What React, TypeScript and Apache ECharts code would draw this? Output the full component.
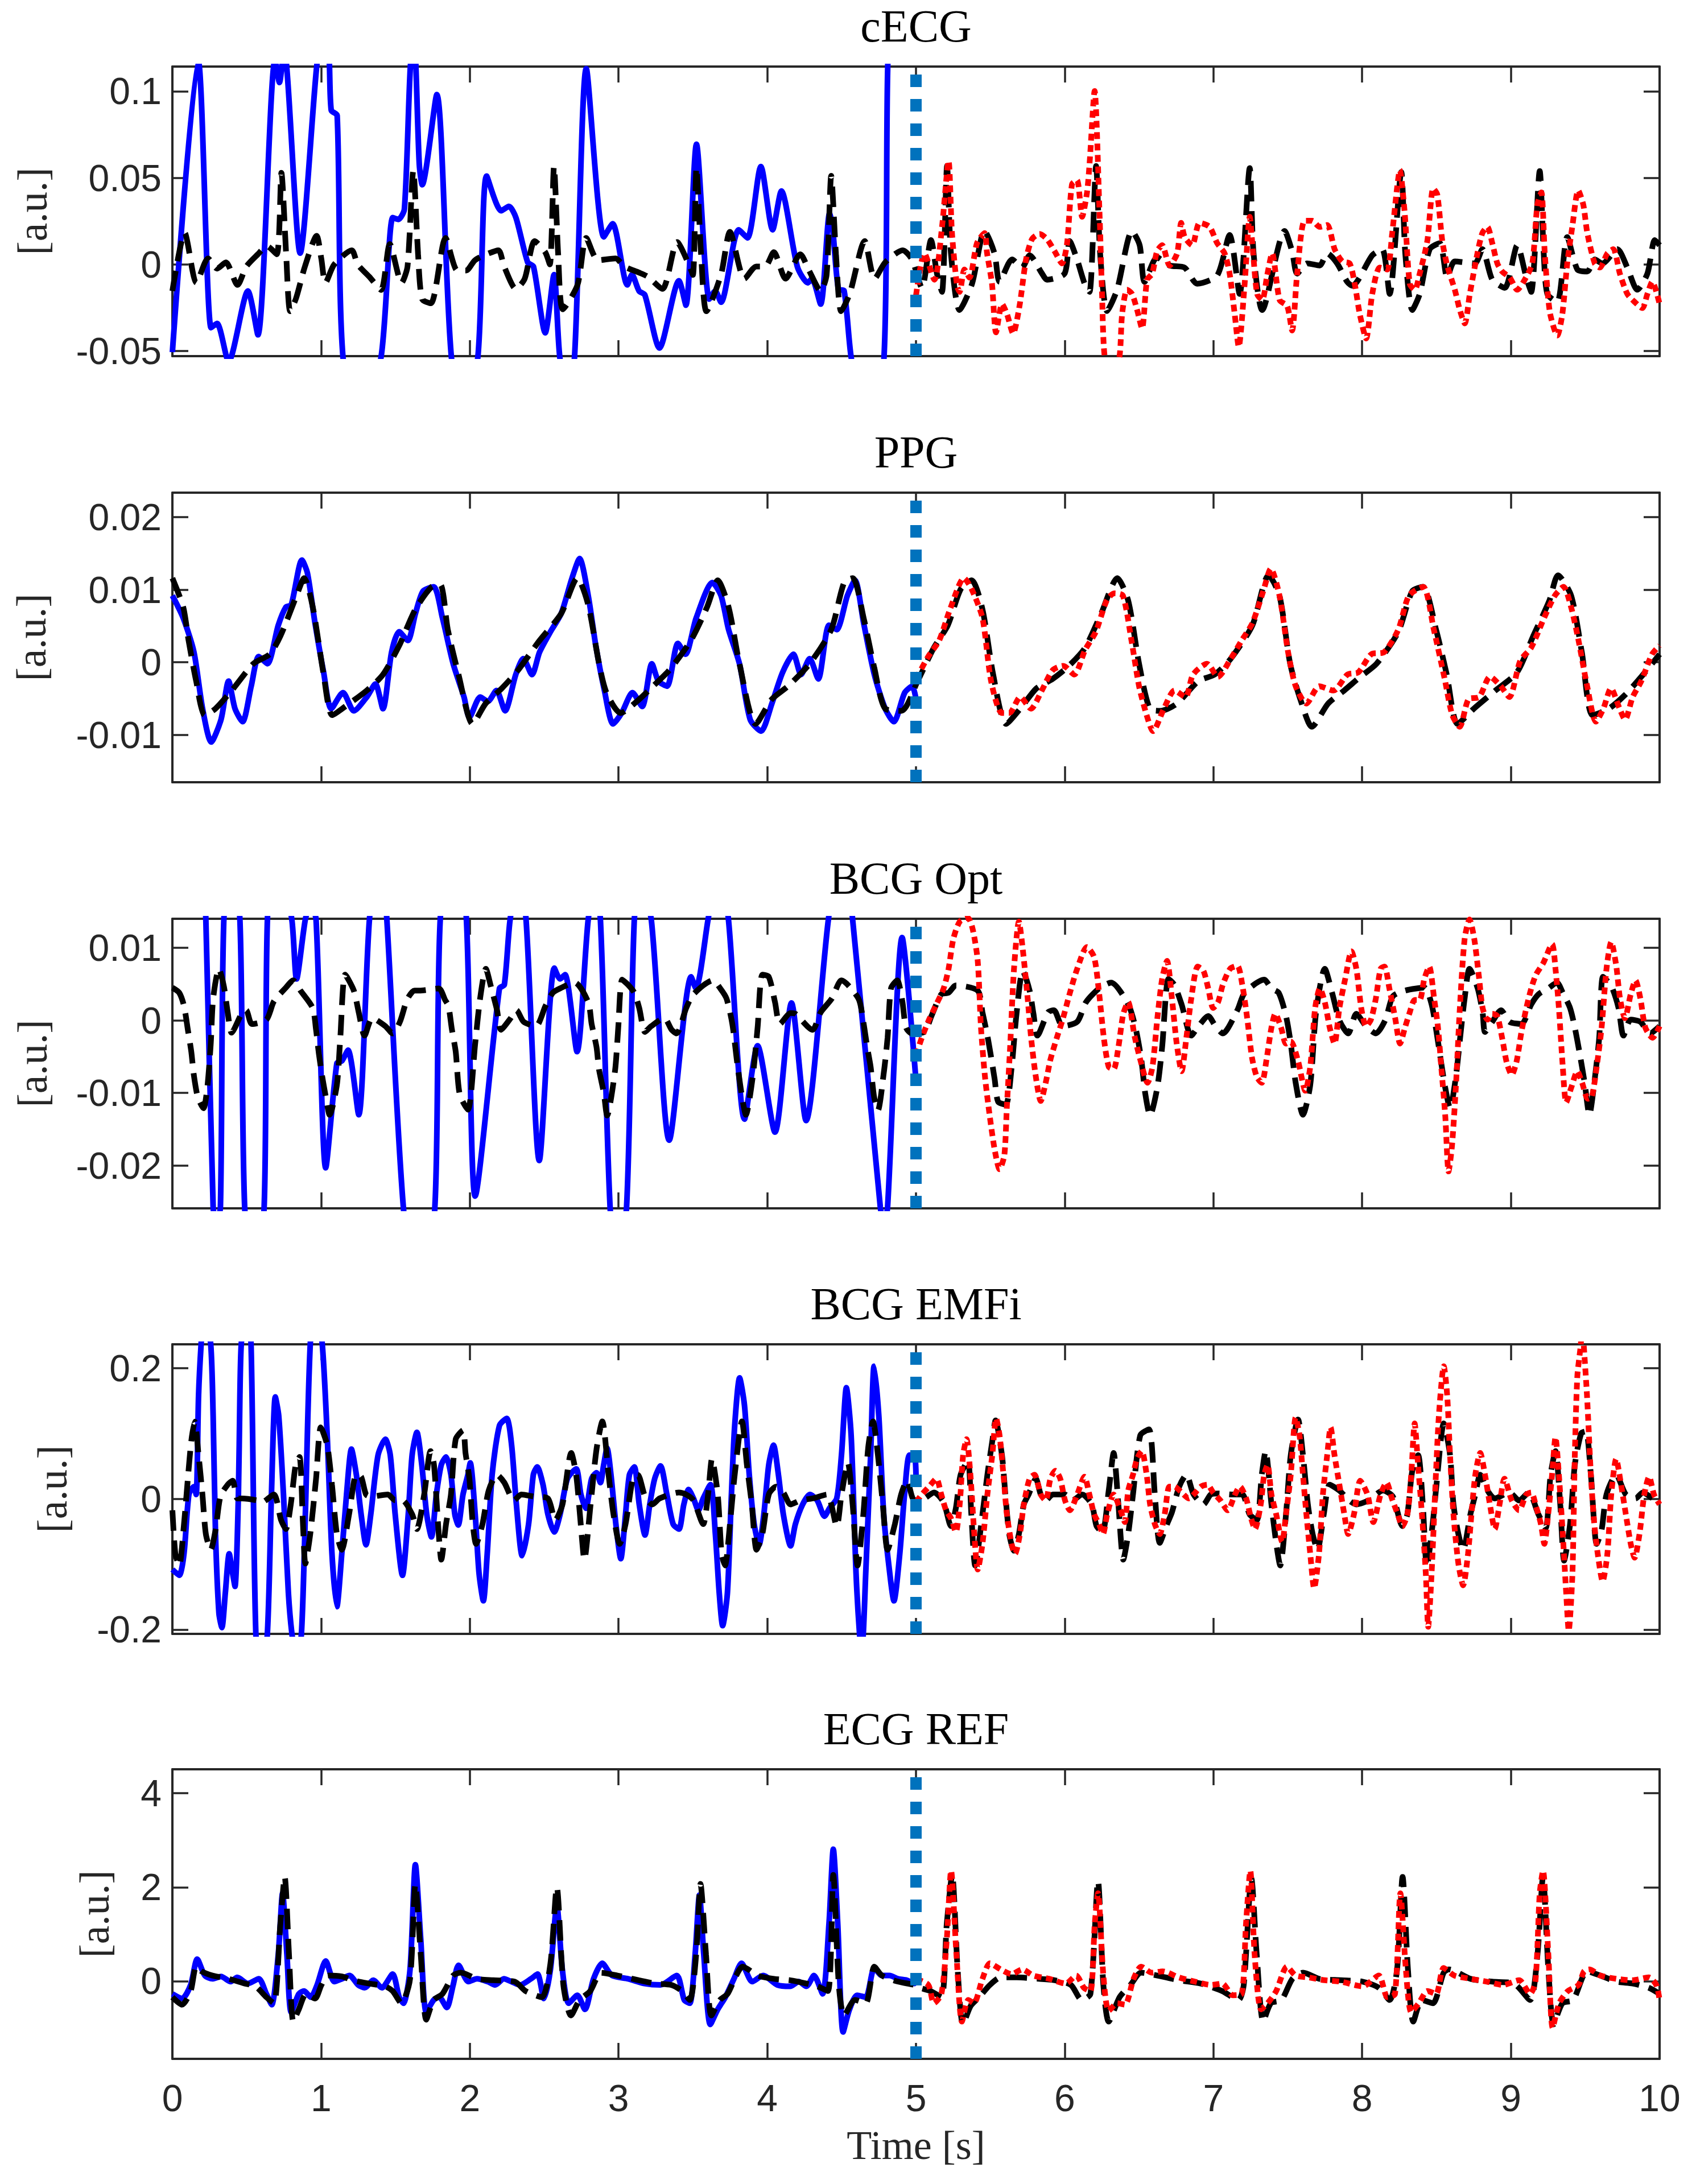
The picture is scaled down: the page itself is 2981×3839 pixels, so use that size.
import React, { useEffect, useRef } from "react";
import * as echarts from "echarts";

// ---------------- DATA (time [s], value [a.u.]) ----------------
const titles = ["cECG", "PPG", "BCG Opt", "BCG EMFi", "ECG REF"];
const splitTime = 5;
const timeMin = 0;
const timeMax = 10;

const cecgTicks = [-0.05, 0, 0.05, 0.1];
const ppgTicks = [-0.01, 0, 0.01, 0.02];
const bcgOptTicks = [-0.02, -0.01, 0, 0.01];
const emfiTicks = [-0.2, 0, 0.2];
const ecgTicks = [0, 2, 4];

const yMins = [-0.0529, -0.01655, -0.02589, -0.2066, -1.653];
const yMaxs = [0.1142, 0.02339, 0.01399, 0.2364, 4.51];

// cECG
const cecgPred = [[0,-0.0506],[0.173,0.118],[0.26,-0.0365],[0.3,-0.034],[0.378,-0.056],[0.508,-0.0153],[0.575,-0.0406],[0.69,0.118],[0.72,0.105],[0.75,0.125],[0.859,0.0065],[0.97,0.114],[1.01,0.135],[1.05,0.125],[1.068,0.089],[1.108,0.086],[1.147,-0.0535],[1.27,-0.085],[1.403,-0.0535],[1.482,0.027],[1.52,0.026],[1.56,0.032],[1.6,0.114],[1.625,0.13],[1.66,0.058],[1.68,0.046],[1.778,0.098],[1.876,-0.0535],[1.965,-0.075],[2.054,-0.0535],[2.113,0.051],[2.211,0.031],[2.263,0.0335],[2.31,0.027],[2.389,0.0012],[2.428,-0.0012],[2.507,-0.0394],[2.566,-0.0059],[2.605,-0.0535],[2.655,-0.07],[2.704,-0.0535],[2.783,0.113],[2.901,0.0159],[2.96,0.0235],[3.059,-0.0118],[3.09,-0.0059],[3.138,-0.0153],[3.177,-0.0176],[3.275,-0.0482],[3.406,-0.0094],[3.453,-0.0235],[3.524,0.0694],[3.61,-0.02],[3.65,-0.0153],[3.689,-0.0218],[3.808,0.02],[3.867,0.0153],[3.957,0.0565],[4.036,0.02],[4.095,0.0424],[4.202,-0.0012],[4.273,-0.0106],[4.3,-0.0082],[4.359,-0.0229],[4.419,0.0294],[4.438,0.0224],[4.478,-0.0141],[4.517,-0.0153],[4.564,-0.0535],[4.67,-0.1],[4.785,-0.0535],[4.81,0.114],[4.86,0.2],[4.95,0.25],[5.0,0.24]];
const cecgRef = [[0,-0.0153],[0.083,0.0182],[0.162,-0.0106],[0.24,0.0035],[0.3,-0.0024],[0.359,0.0012],[0.438,-0.0118],[0.497,-0.0012],[0.575,0.0059],[0.635,0.0106],[0.702,0.0059],[0.733,0.0529],[0.765,0.0059],[0.792,-0.027],[0.832,-0.0194],[0.891,-0.0012],[0.97,0.0165],[1.001,0.0035],[1.029,-0.0106],[1.088,0],[1.206,0.0082],[1.246,0],[1.324,-0.0071],[1.403,-0.0147],[1.462,0.0118],[1.541,-0.0106],[1.581,-0.0012],[1.62,0.0541],[1.652,0.0059],[1.679,-0.02],[1.738,-0.0224],[1.837,0.0153],[1.916,-0.0035],[1.975,-0.0035],[2.034,0.0024],[2.113,0.0059],[2.192,0.0082],[2.231,-0.0012],[2.31,-0.0141],[2.369,-0.0082],[2.436,0.0135],[2.507,0.0071],[2.538,0],[2.566,0.0565],[2.594,0.0059],[2.625,-0.0259],[2.724,-0.0118],[2.783,0.0153],[2.862,0.0024],[2.98,0.0035],[3.039,-0.0012],[3.138,-0.0047],[3.197,-0.0071],[3.295,-0.0141],[3.394,0.0129],[3.473,0],[3.5,-0.006],[3.524,0.0559],[3.555,0.0059],[3.591,-0.027],[3.689,-0.0059],[3.749,0.0188],[3.847,-0.0082],[3.926,-0.0012],[3.985,-0.0012],[4.044,0.0071],[4.123,-0.0082],[4.222,0.0059],[4.281,-0.0035],[4.359,-0.0153],[4.399,-0.006],[4.43,0.0512],[4.462,0.0059],[4.497,-0.027],[4.556,-0.0165],[4.655,0.0135],[4.722,-0.0082],[4.793,0.0012],[4.911,0.0082],[4.973,0.0029],[5.04,-0.0135],[5.101,0.0141],[5.141,-0.0053],[5.175,-0.0158],[5.209,0.0568],[5.235,0.0064],[5.293,-0.0263],[5.377,-0.0111],[5.461,0.0193],[5.528,0.0064],[5.562,-0.01],[5.646,0.0029],[5.713,-0.0018],[5.764,0.0053],[5.848,-0.0053],[5.881,-0.0088],[5.999,-0.0053],[6.033,0.0135],[6.083,0.0029],[6.134,-0.0111],[6.167,-0.0158],[6.211,0.0568],[6.238,0.0064],[6.285,-0.0269],[6.352,-0.0146],[6.453,0.0193],[6.504,0.0111],[6.537,-0.01],[6.621,0.0041],[6.705,-0.0006],[6.806,-0.0018],[6.89,-0.0111],[7.025,-0.0064],[7.109,0.017],[7.176,-0.017],[7.244,0.0556],[7.27,0.0064],[7.328,-0.0263],[7.479,0.0193],[7.529,0.0076],[7.563,-0.0053],[7.63,0.0006],[7.714,-0.0006],[7.765,0.0064],[7.832,0.0006],[7.899,-0.01],[7.933,-0.0123],[8.068,0.0053],[8.135,0.0088],[8.185,-0.017],[8.263,0.0533],[8.29,0.0064],[8.337,-0.0263],[8.387,-0.017],[8.454,0.0088],[8.522,0.0123],[8.572,-0.0076],[8.623,0.0018],[8.757,0.0006],[8.808,0.0088],[8.875,-0.0088],[8.959,-0.0135],[9.043,0.0111],[9.104,-0.0076],[9.137,-0.0158],[9.194,0.0539],[9.221,0.0064],[9.245,-0.017],[9.312,-0.0217],[9.379,0.0158],[9.447,-0.0029],[9.514,-0.0041],[9.564,0.0029],[9.615,0.0006],[9.716,0.0088],[9.783,-0.0018],[9.85,-0.0146],[9.918,-0.0053],[9.968,0.0141],[10,0.0111]];
const cecgFore = [[5.0,-0.018],[5.057,0.0064],[5.124,-0.0088],[5.175,0.0217],[5.219,0.0597],[5.242,0.0181],[5.276,-0.0123],[5.293,-0.0158],[5.326,-0.0029],[5.36,-0.0076],[5.41,0.0123],[5.461,0.0181],[5.478,0.0064],[5.511,-0.0111],[5.538,-0.0392],[5.579,-0.0228],[5.612,-0.0287],[5.653,-0.0398],[5.696,-0.024],[5.74,0.0029],[5.78,0.0146],[5.831,0.0176],[5.881,0.0146],[5.932,0.0076],[5.982,0.0006],[6.016,0.0123],[6.049,0.0463],[6.083,0.0486],[6.117,0.0275],[6.15,0.0416],[6.167,0.058],[6.201,0.1001],[6.234,0.0299],[6.251,-0.017],[6.268,-0.0527],[6.318,-0.07],[6.369,-0.0527],[6.386,-0.0287],[6.419,-0.0146],[6.453,-0.017],[6.487,-0.0263],[6.52,-0.0369],[6.554,-0.0088],[6.588,-0.0053],[6.621,0.0076],[6.655,0.0111],[6.705,-0.0006],[6.756,0.0064],[6.783,0.024],[6.807,0.0158],[6.857,0.0111],[6.907,0.024],[6.974,0.0217],[7.025,0.0123],[7.075,0.0064],[7.109,-0.0053],[7.143,-0.0287],[7.17,-0.0474],[7.21,-0.0111],[7.244,0.0275],[7.267,0.0064],[7.294,-0.017],[7.328,-0.0205],[7.361,-0.0064],[7.395,0.0064],[7.445,-0.0205],[7.496,-0.024],[7.529,-0.0381],[7.563,-0.0053],[7.613,0.0252],[7.664,0.0252],[7.714,0.0217],[7.765,0.0228],[7.815,0.0088],[7.866,0.0018],[7.916,0.0006],[7.95,-0.0111],[7.984,-0.0287],[8.027,-0.0427],[8.068,-0.017],[8.118,-0.0018],[8.168,-0.0029],[8.202,0.0181],[8.236,0.0451],[8.253,0.0545],[8.286,0.0299],[8.32,-0.0111],[8.354,-0.0146],[8.387,-0.0053],[8.438,0.0135],[8.478,0.0439],[8.505,0.0404],[8.539,0.0135],[8.572,-0.0006],[8.623,-0.0146],[8.657,-0.0263],[8.69,-0.034],[8.724,-0.017],[8.775,0.0064],[8.808,0.0181],[8.842,0.0217],[8.875,0.0123],[8.909,0.0006],[8.942,-0.0041],[8.993,-0.0076],[9.043,-0.0146],[9.093,-0.0088],[9.144,0.0006],[9.178,0.0345],[9.205,0.0416],[9.228,0.0064],[9.262,-0.0275],[9.312,-0.041],[9.346,-0.0287],[9.379,0.0006],[9.413,0.0217],[9.453,0.0427],[9.487,0.0345],[9.514,0.0181],[9.564,0.0006],[9.598,-0.0018],[9.649,0.0064],[9.689,0.0088],[9.733,-0.0053],[9.783,-0.017],[9.833,-0.0217],[9.884,-0.0252],[9.918,-0.017],[9.951,-0.01],[10,-0.0228]];

// PPG
const ppgPred = [[0,0.0092],[0.073,0.0061],[0.145,0.0014],[0.203,-0.0064],[0.261,-0.011],[0.327,-0.0079],[0.378,-0.0026],[0.421,-0.0064],[0.472,-0.0082],[0.53,-0.0033],[0.581,0.0008],[0.639,-0.0002],[0.712,0.0051],[0.763,0.0076],[0.799,0.0079],[0.871,0.0141],[0.908,0.0123],[0.959,0.0054],[1.017,-0.0014],[1.068,-0.0064],[1.147,-0.0042],[1.22,-0.0067],[1.307,-0.0048],[1.365,-0.003],[1.416,-0.0064],[1.474,0.0014],[1.525,0.0042],[1.583,0.003],[1.634,0.0067],[1.685,0.0098],[1.757,0.0104],[1.816,0.0061],[1.888,-0.0002],[1.961,-0.0048],[1.997,-0.0076],[2.07,-0.0048],[2.121,-0.0054],[2.179,-0.0039],[2.237,-0.0067],[2.309,-0.0017],[2.36,0.0005],[2.418,-0.0017],[2.469,0.0014],[2.542,0.0042],[2.614,0.0067],[2.687,0.0116],[2.738,0.0143],[2.796,0.0092],[2.847,0.0023],[2.905,-0.0039],[2.963,-0.0085],[3.021,-0.007],[3.094,-0.0042],[3.159,-0.0061],[3.224,-0.0002],[3.268,-0.0026],[3.326,-0.0033],[3.399,0.0026],[3.45,0.0011],[3.522,0.0061],[3.631,0.011],[3.689,0.0092],[3.74,0.0045],[3.813,-0.0002],[3.885,-0.0079],[3.958,-0.0095],[4.031,-0.0057],[4.103,-0.0014],[4.176,0.0011],[4.227,-0.0017],[4.285,0.0005],[4.343,-0.0023],[4.415,0.0051],[4.466,0.0045],[4.539,0.0092],[4.59,0.0113],[4.648,0.0054],[4.72,-0.0017],[4.793,-0.0064],[4.851,-0.0082],[4.924,-0.0042],[4.975,-0.0033],[5.0,-0.0051]];
const ppgRef = [[0,0.0116],[0.073,0.0076],[0.109,0.003],[0.16,-0.0026],[0.218,-0.0073],[0.29,-0.0064],[0.399,-0.0039],[0.545,-0.0002],[0.654,0.0011],[0.726,0.0036],[0.835,0.0092],[0.886,0.0116],[0.944,0.0076],[1.017,-0.0017],[1.075,-0.0073],[1.162,-0.0061],[1.307,-0.0039],[1.416,-0.0017],[1.525,0.0023],[1.634,0.0073],[1.743,0.0104],[1.801,0.0107],[1.852,0.0045],[1.924,-0.0017],[2.019,-0.0085],[2.106,-0.0057],[2.215,-0.0036],[2.324,-0.0011],[2.469,0.003],[2.614,0.0067],[2.723,0.0116],[2.796,0.0079],[2.869,-0.0002],[2.919,-0.0042],[3.014,-0.007],[3.123,-0.0054],[3.232,-0.0033],[3.341,-0.0011],[3.486,0.003],[3.595,0.0076],[3.667,0.0113],[3.74,0.0076],[3.813,-0.0002],[3.922,-0.0085],[4.031,-0.0051],[4.139,-0.0033],[4.285,-0.0002],[4.43,0.0045],[4.517,0.011],[4.575,0.0116],[4.648,0.0061],[4.72,-0.0008],[4.793,-0.0064],[4.902,-0.0067],[5.011,-0.0026],[5.12,0.002],[5.214,0.0051],[5.301,0.0101],[5.374,0.0113],[5.447,0.0073],[5.519,-0.0017],[5.606,-0.0085],[5.701,-0.0064],[5.81,-0.0036],[5.919,-0.0023],[6.028,-0.0005],[6.137,0.002],[6.245,0.0067],[6.354,0.0116],[6.427,0.0085],[6.5,-0.0002],[6.572,-0.0064],[6.645,-0.0067],[6.754,-0.0057],[6.899,-0.0026],[7.008,-0.0017],[7.117,0.0005],[7.262,0.0051],[7.371,0.012],[7.444,0.0092],[7.516,-0.0002],[7.589,-0.0054],[7.662,-0.0089],[7.771,-0.0057],[7.879,-0.0039],[7.988,-0.002],[8.097,-0.0002],[8.243,0.0042],[8.337,0.0098],[8.41,0.0104],[8.497,0.0045],[8.569,-0.0017],[8.642,-0.0085],[8.751,-0.0064],[8.896,-0.0039],[9.041,-0.0014],[9.15,0.0036],[9.259,0.0085],[9.317,0.012],[9.405,0.0092],[9.477,0.0014],[9.55,-0.0073],[9.659,-0.0064],[9.768,-0.0045],[9.877,-0.002],[10,0.0011]];
const ppgFore = [[5.0,-0.0023],[5.083,0.0008],[5.156,0.003],[5.229,0.0073],[5.323,0.0116],[5.374,0.0101],[5.447,0.0061],[5.505,-0.0026],[5.577,-0.007],[5.628,-0.007],[5.701,-0.0048],[5.773,-0.0064],[5.846,-0.0039],[5.919,-0.0011],[5.991,-0.0005],[6.064,-0.0017],[6.137,0.0017],[6.209,0.0042],[6.282,0.0085],[6.333,0.0095],[6.391,0.0092],[6.449,0.003],[6.5,-0.0033],[6.551,-0.0073],[6.594,-0.0095],[6.667,-0.0064],[6.739,-0.0039],[6.812,-0.0048],[6.863,-0.0017],[6.957,-0.0002],[7.03,-0.002],[7.117,0.0005],[7.19,0.003],[7.262,0.0054],[7.335,0.0098],[7.386,0.0129],[7.444,0.0092],[7.502,0.0014],[7.553,-0.0033],[7.625,-0.0057],[7.712,-0.0033],[7.807,-0.0039],[7.901,-0.0017],[7.974,-0.0014],[8.061,0.0011],[8.148,0.0014],[8.243,0.0045],[8.315,0.0092],[8.41,0.0104],[8.482,0.0045],[8.555,-0.0023],[8.606,-0.0073],[8.656,-0.0089],[8.715,-0.0051],[8.787,-0.0048],[8.86,-0.002],[8.932,-0.0033],[8.99,-0.0048],[9.063,0.0002],[9.136,0.002],[9.223,0.0061],[9.296,0.0092],[9.354,0.0104],[9.405,0.0076],[9.455,0.003],[9.513,-0.0033],[9.572,-0.0082],[9.622,-0.0064],[9.673,-0.0036],[9.731,-0.0064],[9.768,-0.0079],[9.819,-0.0048],[9.877,-0.0026],[9.949,0.0011],[10,0.0023]];

// BCG Opt
const bcgOptPred = [[0,0.03],[0.1,0.04],[0.2,0.025],[0.225,0.0139],[0.274,-0.0257],[0.295,-0.028],[0.323,-0.0257],[0.346,0.0139],[0.4,0.02],[0.454,0.0139],[0.486,-0.0257],[0.55,-0.035],[0.617,-0.0257],[0.639,0.0139],[0.7,0.025],[0.803,0.0139],[0.835,0.0057],[0.894,0.0139],[0.93,0.016],[0.966,0.0139],[1.031,-0.0203],[1.106,-0.0059],[1.139,-0.0056],[1.181,-0.0041],[1.253,-0.013],[1.325,0.0139],[1.4,0.025],[1.442,0.0139],[1.553,-0.0257],[1.66,-0.04],[1.765,-0.0257],[1.801,0.0139],[1.9,0.028],[1.977,0.0139],[2.036,-0.0242],[2.199,0.0044],[2.232,0.0049],[2.271,0.0139],[2.33,0.02],[2.378,0.0139],[2.467,-0.0193],[2.568,0.0072],[2.607,0.0057],[2.64,0.0063],[2.721,-0.0043],[2.796,0.0139],[2.84,0.018],[2.878,0.0139],[2.943,-0.0257],[2.99,-0.032],[3.054,-0.0257],[3.106,0.0139],[3.15,0.018],[3.22,0.0139],[3.341,-0.0165],[3.488,0.006],[3.52,0.0044],[3.602,0.0139],[3.67,0.022],[3.739,0.0139],[3.847,-0.0136],[3.935,-0.0035],[4.052,-0.0154],[4.163,0.0024],[4.261,-0.0138],[4.411,0.0139],[4.5,0.025],[4.574,0.0139],[4.76,-0.0257],[4.785,-0.028],[4.809,-0.0257],[4.907,0.0114],[5.0,-0.0083]];
const bcgOptRef = [[0,0.0045],[0.046,0.0038],[0.078,0.002],[0.104,-0.0013],[0.127,-0.0043],[0.144,-0.0075],[0.17,-0.0105],[0.209,-0.0121],[0.235,-0.0092],[0.258,-0.0032],[0.274,0.003],[0.313,0.0071],[0.346,0.0047],[0.372,0.0011],[0.398,-0.0017],[0.47,0.0011],[0.496,0.0014],[0.535,-0.0005],[0.633,0.0001],[0.682,0.0026],[0.763,0.0045],[0.812,0.0055],[0.861,0.0041],[0.943,0.0017],[0.966,-0.0013],[0.985,-0.0046],[1.008,-0.0078],[1.034,-0.0108],[1.057,-0.013],[1.106,-0.0089],[1.129,-0.0024],[1.162,0.0063],[1.22,0.0041],[1.253,0.0011],[1.292,-0.0021],[1.344,0.0003],[1.432,-0.0008],[1.481,-0.0018],[1.53,-0.0002],[1.579,0.0029],[1.628,0.0041],[1.661,0.0041],[1.791,0.0044],[1.834,0.0028],[1.856,0.002],[1.879,-0.0012],[1.905,-0.0043],[1.932,-0.0102],[1.987,-0.0123],[2.036,-0.0032],[2.069,0.003],[2.108,0.0071],[2.14,0.0048],[2.183,0.0014],[2.209,-0.0013],[2.271,0.0002],[2.313,0.0014],[2.362,-0.0002],[2.444,-0.0008],[2.509,0.002],[2.558,0.0038],[2.607,0.0044],[2.705,0.0052],[2.796,0.0025],[2.819,-0.0005],[2.852,-0.0037],[2.868,-0.0067],[2.901,-0.01],[2.923,-0.0131],[2.976,-0.007],[2.998,-0.001],[3.024,0.0056],[3.064,0.0049],[3.106,0.0038],[3.139,0.0017],[3.178,-0.0016],[3.22,-0.0008],[3.308,0.0003],[3.357,-0.0013],[3.39,-0.0018],[3.455,0.0017],[3.504,0.0036],[3.635,0.0055],[3.684,0.0044],[3.726,0.003],[3.765,-0.0005],[3.798,-0.0059],[3.83,-0.0105],[3.856,-0.013],[3.902,-0.0078],[3.935,-0.001],[3.967,0.0063],[4.01,0.006],[4.052,0.0025],[4.085,-0.0005],[4.157,0.001],[4.189,0.0009],[4.304,-0.0013],[4.359,0.0011],[4.434,0.003],[4.499,0.0055],[4.613,0.003],[4.646,-0.0002],[4.672,-0.0037],[4.695,-0.0064],[4.718,-0.0105],[4.744,-0.0124],[4.783,-0.0073],[4.809,-0.0024],[4.832,0.0044],[4.874,0.0055],[4.907,0.0028],[4.933,-0.001],[4.972,-0.0018],[5.056,-0.0016],[5.104,0.0006],[5.17,0.0036],[5.219,0.0038],[5.268,0.0048],[5.415,0.0041],[5.447,0.0011],[5.48,-0.0021],[5.503,-0.0048],[5.529,-0.0081],[5.552,-0.0112],[5.604,-0.0116],[5.643,-0.0065],[5.676,0.0009],[5.718,0.0068],[5.764,0.0041],[5.79,0.0009],[5.816,-0.0021],[5.888,0.0011],[5.927,0.0014],[5.986,-0.0008],[6.084,-0.0002],[6.143,0.0025],[6.231,0.0044],[6.312,0.0052],[6.427,0.0022],[6.476,-0.001],[6.515,-0.0054],[6.541,-0.01],[6.574,-0.0131],[6.623,-0.0092],[6.655,-0.0037],[6.698,0.0057],[6.737,0.0049],[6.786,0.0022],[6.851,-0.0021],[6.9,-0.0008],[6.965,0.0006],[7.014,-0.0008],[7.063,-0.0018],[7.161,0.0014],[7.21,0.0038],[7.341,0.0056],[7.39,0.0044],[7.439,0.0038],[7.488,0.0006],[7.52,-0.0032],[7.553,-0.0086],[7.602,-0.013],[7.651,-0.0089],[7.69,0.0011],[7.749,0.0071],[7.798,0.0038],[7.847,0],[7.906,-0.0018],[7.961,0.0009],[8.026,-0.0008],[8.092,-0.0018],[8.157,0.0001],[8.206,0.0033],[8.288,0.0041],[8.418,0.0045],[8.467,0.0022],[8.5,-0.0016],[8.532,-0.0059],[8.558,-0.0092],[8.591,-0.0121],[8.63,-0.0078],[8.663,-0.0016],[8.689,0.003],[8.722,0.0071],[8.777,0.0044],[8.81,0.0011],[8.826,-0.0016],[8.875,-0.0002],[8.934,0.0014],[8.99,-0.0002],[9.071,-0.0005],[9.137,0.0022],[9.186,0.0036],[9.251,0.0044],[9.31,0.0052],[9.349,0.0038],[9.398,0.0017],[9.43,-0.001],[9.463,-0.0046],[9.496,-0.0086],[9.528,-0.013],[9.561,-0.0086],[9.594,-0.0024],[9.62,0.006],[9.676,0.0047],[9.724,0.0017],[9.757,-0.0021],[9.806,0.0001],[9.871,-0.0002],[9.936,-0.0018],[10,-0.0008]];
const bcgOptFore = [[5.0,-0.0048],[5.039,-0.0024],[5.088,0.0001],[5.137,0.0022],[5.186,0.0044],[5.219,0.0071],[5.251,0.0112],[5.294,0.0136],[5.349,0.0141],[5.382,0.0125],[5.415,0.0082],[5.437,-0.001],[5.464,-0.0078],[5.496,-0.0132],[5.529,-0.0178],[5.562,-0.0205],[5.594,-0.0186],[5.611,-0.0119],[5.633,-0.0037],[5.659,0.0071],[5.692,0.0136],[5.718,0.0098],[5.751,0.003],[5.774,-0.0024],[5.806,-0.0078],[5.839,-0.0111],[5.872,-0.0086],[5.904,-0.0054],[5.947,-0.0024],[5.986,0.0001],[6.035,0.0038],[6.084,0.0071],[6.149,0.0101],[6.198,0.0087],[6.231,0.0038],[6.263,-0.0024],[6.296,-0.0064],[6.329,-0.0067],[6.361,-0.0037],[6.394,0.0009],[6.427,0.0025],[6.469,-0.0021],[6.508,-0.0054],[6.557,-0.0086],[6.59,-0.0064],[6.623,0.0003],[6.655,0.0057],[6.688,0.0082],[6.721,0.003],[6.753,-0.0032],[6.786,-0.007],[6.818,-0.0024],[6.851,0.003],[6.894,0.0074],[6.933,0.0068],[6.965,0.0044],[6.998,0.0017],[7.031,0.0025],[7.063,0.0049],[7.112,0.0071],[7.161,0.0075],[7.194,0.0049],[7.227,0.0003],[7.259,-0.0051],[7.292,-0.0078],[7.325,-0.0086],[7.357,-0.0054],[7.39,-0.001],[7.416,0.0009],[7.455,-0.001],[7.488,-0.0032],[7.52,-0.0029],[7.569,-0.0056],[7.618,-0.0097],[7.651,-0.0064],[7.684,0.0017],[7.716,0.0044],[7.749,0.0025],[7.782,-0.001],[7.814,-0.0032],[7.847,0.0017],[7.886,0.0057],[7.928,0.0095],[7.961,0.0071],[7.994,0.0017],[8.026,-0.0008],[8.059,0.0001],[8.092,0.003],[8.124,0.0071],[8.15,0.0074],[8.183,0.0044],[8.222,0.0003],[8.255,-0.0032],[8.288,-0.001],[8.32,0.0011],[8.353,0.0028],[8.386,0.0028],[8.418,0.0057],[8.451,0.0074],[8.484,0.003],[8.51,-0.001],[8.532,-0.0064],[8.559,-0.0132],[8.581,-0.0208],[8.604,-0.0173],[8.63,-0.0092],[8.657,0.0017],[8.689,0.0112],[8.722,0.0139],[8.754,0.0112],[8.787,0.0057],[8.81,0.0017],[8.843,0.0001],[8.875,0.0009],[8.908,0.0006],[8.941,-0.0024],[8.973,-0.0059],[9.006,-0.0075],[9.039,-0.0056],[9.071,-0.0016],[9.104,0.0017],[9.137,0.0044],[9.169,0.0063],[9.218,0.0079],[9.277,0.0105],[9.3,0.0071],[9.323,0.0017],[9.349,-0.0064],[9.372,-0.0113],[9.407,-0.0092],[9.447,-0.007],[9.479,-0.0086],[9.518,-0.0108],[9.545,-0.0105],[9.577,-0.0064],[9.61,-0.001],[9.643,0.0071],[9.675,0.0108],[9.708,0.0076],[9.734,0.003],[9.767,0.0003],[9.806,0.0036],[9.838,0.0055],[9.871,0.003],[9.904,-0.001],[9.953,-0.0024],[10,-0.0008]];

// BCG EMFi
const emfiPred = [[0,-0.108],[0.046,-0.117],[0.078,-0.084],[0.111,0.0066],[0.144,0.0187],[0.16,0.0066],[0.176,0.158],[0.193,0.236],[0.215,0.3],[0.258,0.236],[0.274,0.127],[0.29,-0.054],[0.313,-0.175],[0.333,-0.197],[0.356,-0.144],[0.382,-0.084],[0.405,-0.114],[0.421,-0.134],[0.444,0.0066],[0.454,0.158],[0.463,0.236],[0.5,0.32],[0.529,0.236],[0.561,-0.205],[0.6,-0.27],[0.639,-0.205],[0.666,0.0066],[0.692,0.156],[0.715,0.127],[0.747,0.0066],[0.78,-0.144],[0.803,-0.205],[0.835,-0.25],[0.868,-0.205],[0.894,-0.024],[0.927,0.236],[0.965,0.3],[1.008,0.236],[1.041,0.097],[1.073,-0.084],[1.106,-0.165],[1.139,-0.084],[1.171,0.0066],[1.204,0.076],[1.237,0.0368],[1.269,-0.0236],[1.302,-0.0704],[1.334,-0.0236],[1.383,0.067],[1.432,0.0912],[1.465,0.067],[1.498,-0.0236],[1.547,-0.117],[1.586,-0.0236],[1.612,0.067],[1.644,0.1018],[1.677,0.052],[1.71,-0.0236],[1.742,-0.0583],[1.775,0.0066],[1.808,0.052],[1.84,0.064],[1.873,0.0368],[1.899,-0.0236],[1.922,-0.0402],[1.954,0.0066],[1.987,0.0368],[2.003,0.055],[2.036,-0.0236],[2.062,-0.114],[2.091,-0.156],[2.117,-0.084],[2.15,0.0368],[2.199,0.112],[2.248,0.123],[2.281,0.082],[2.313,-0.0085],[2.352,-0.087],[2.395,-0.0387],[2.427,0.0368],[2.453,0.0489],[2.492,0.0217],[2.525,-0.0236],[2.568,-0.0507],[2.607,-0.0236],[2.656,0.0308],[2.715,0.0459],[2.747,0.0066],[2.78,-0.0145],[2.819,0.0308],[2.852,0.0399],[2.878,0.0248],[2.9,0.0519],[2.923,0.0776],[2.949,0.0368],[2.982,-0.0387],[3.015,-0.0915],[3.047,-0.0236],[3.073,0.0368],[3.106,0.0489],[3.139,-0.0085],[3.178,-0.0553],[3.21,-0.0085],[3.243,0.0308],[3.282,0.0504],[3.325,0.0066],[3.367,-0.0387],[3.406,-0.0462],[3.439,-0.0085],[3.471,0.0142],[3.504,0.0006],[3.537,-0.0175],[3.569,0.0006],[3.618,0.0217],[3.651,-0.0538],[3.677,-0.144],[3.7,-0.194],[3.732,-0.144],[3.759,0.0066],[3.781,0.112],[3.814,0.185],[3.847,0.1425],[3.879,0.0368],[3.912,-0.0387],[3.945,-0.0704],[3.977,-0.0236],[4.01,0.052],[4.042,0.0821],[4.075,0.0368],[4.108,-0.0236],[4.157,-0.0719],[4.189,-0.0387],[4.238,-0.0085],[4.287,0.0066],[4.336,-0.0024],[4.385,-0.0266],[4.418,-0.0145],[4.467,0.0006],[4.499,0.067],[4.532,0.17],[4.564,0.097],[4.597,-0.114],[4.62,-0.205],[4.634,-0.23],[4.646,-0.205],[4.662,-0.114],[4.695,0.067],[4.718,0.203],[4.75,0.127],[4.783,-0.0236],[4.816,-0.099],[4.852,-0.156],[4.891,-0.084],[4.923,0.0066],[4.956,0.067],[4.989,0.067],[5.0,0.0368]];
const emfiRef = [[0,-0.0175],[0.02,-0.084],[0.046,-0.102],[0.078,-0.0387],[0.104,0.0308],[0.127,0.0882],[0.15,0.118],[0.176,0.067],[0.202,0.0066],[0.225,-0.0538],[0.258,-0.0779],[0.29,-0.0477],[0.323,0.0036],[0.372,0.0217],[0.405,0.0278],[0.437,0.0006],[0.47,0.0006],[0.568,-0.0024],[0.6,-0.0054],[0.682,0.0066],[0.731,-0.0326],[0.763,-0.0462],[0.796,-0.0085],[0.829,0.052],[0.855,0.064],[0.878,-0.0387],[0.894,-0.099],[0.927,-0.0538],[0.966,0.0308],[0.998,0.1093],[1.041,0.0821],[1.073,0.0217],[1.106,-0.0538],[1.139,-0.0779],[1.188,-0.0236],[1.237,0.0368],[1.269,0.0338],[1.302,0.0066],[1.334,0.0036],[1.449,0.0066],[1.498,-0.0024],[1.547,-0.0024],[1.612,-0.0236],[1.644,-0.0462],[1.693,0.0066],[1.736,0.0731],[1.759,0.052],[1.791,-0.0538],[1.808,-0.093],[1.84,-0.0387],[1.873,0.0066],[1.905,0.0912],[1.954,0.1048],[1.971,0.0701],[1.997,0.0308],[2.02,-0.0387],[2.042,-0.0689],[2.085,-0.0387],[2.127,0.0127],[2.183,0.0368],[2.232,0.0248],[2.297,-0.0024],[2.346,0.0066],[2.427,0.0036],[2.525,0.0006],[2.574,-0.0326],[2.623,-0.0085],[2.682,0.0701],[2.715,0.0368],[2.747,-0.0417],[2.77,-0.093],[2.812,-0.0085],[2.852,0.0761],[2.891,0.1184],[2.933,0.0368],[2.966,-0.0236],[3.008,-0.0689],[3.047,-0.0387],[3.096,0.0308],[3.129,0.0368],[3.178,0.0036],[3.227,-0.0085],[3.276,0.0006],[3.406,0.0097],[3.455,0.0066],[3.504,-0.0024],[3.569,-0.0387],[3.602,0.0066],[3.628,0.061],[3.667,0.0066],[3.693,-0.084],[3.716,-0.102],[3.749,-0.0387],[3.781,0.0368],[3.83,0.1184],[3.863,0.052],[3.896,-0.0085],[3.928,-0.0779],[3.967,-0.0538],[4.01,0.0066],[4.059,0.0187],[4.108,0.0097],[4.157,-0.0085],[4.222,-0.0024],[4.304,0.0006],[4.401,0.0066],[4.467,-0.0417],[4.499,0.0066],[4.542,0.055],[4.574,-0.0085],[4.607,-0.102],[4.646,-0.0236],[4.679,0.0791],[4.711,0.1184],[4.744,0.067],[4.777,-0.0085],[4.809,-0.0779],[4.858,-0.0387],[4.9,0.0066],[4.94,0.0278],[4.989,-0.0024],[5.056,0.0006],[5.121,0.0097],[5.186,-0.0054],[5.235,-0.0417],[5.268,-0.0145],[5.3,0.0368],[5.349,0.058],[5.372,-0.0236],[5.398,-0.102],[5.447,-0.0236],[5.48,0.0368],[5.513,0.0882],[5.535,0.1199],[5.578,0.067],[5.601,0.0066],[5.627,-0.0538],[5.659,-0.0794],[5.692,-0.0538],[5.725,-0.0085],[5.757,0.0066],[5.806,0.0308],[5.839,0.0066],[5.872,-0.0024],[5.921,0.0066],[6.002,0.0066],[6.051,-0.0024],[6.117,0.0066],[6.182,-0.0085],[6.214,-0.0417],[6.254,-0.0507],[6.296,0.0127],[6.329,0.0701],[6.361,-0.0085],[6.394,-0.093],[6.427,-0.0538],[6.459,0.0066],[6.508,0.0972],[6.567,0.1063],[6.606,0.0066],[6.639,-0.0673],[6.688,-0.0387],[6.721,-0.0205],[6.77,0.0187],[6.818,0.0368],[6.867,0.0066],[6.933,-0.0085],[6.982,0.0066],[7.031,0.0082],[7.129,0.0066],[7.194,0.0066],[7.243,-0.0236],[7.292,-0.0326],[7.325,0.0368],[7.351,0.0731],[7.39,-0.0085],[7.422,-0.0673],[7.449,-0.102],[7.488,-0.0236],[7.52,0.067],[7.569,0.1214],[7.602,0.067],[7.635,-0.0085],[7.667,-0.0538],[7.7,-0.0779],[7.742,-0.0236],[7.782,0.0217],[7.847,0.0127],[7.912,-0.0024],[7.961,-0.0085],[8.043,-0.0024],[8.141,0.0127],[8.206,0.0036],[8.271,-0.0417],[8.304,-0.0236],[8.337,0.0429],[8.376,0.067],[8.408,-0.0085],[8.435,-0.1036],[8.474,-0.0387],[8.5,0.0217],[8.549,0.1154],[8.591,0.067],[8.614,-0.0085],[8.647,-0.0538],[8.679,-0.0779],[8.728,-0.0236],[8.761,0.0066],[8.794,0.0368],[8.843,0.0127],[8.892,0.0006],[8.99,0.0097],[9.055,-0.0024],[9.12,0.0097],[9.185,-0.0236],[9.234,-0.0447],[9.267,0.0368],[9.3,0.0731],[9.332,-0.0085],[9.358,-0.0945],[9.398,-0.0387],[9.43,0.052],[9.473,0.1003],[9.505,0.1033],[9.538,0.0368],[9.577,-0.0689],[9.61,-0.0477],[9.643,0.0066],[9.708,0.0368],[9.773,0.0066],[9.838,0.0006],[9.887,0.0097],[9.953,0.0006],[10,-0.0054]];
const emfiFore = [[5.0,-0.0054],[5.039,0.0066],[5.088,0.0187],[5.137,0.0308],[5.17,0.0066],[5.202,-0.0175],[5.235,-0.0296],[5.268,-0.0507],[5.294,-0.0085],[5.317,0.067],[5.34,0.0912],[5.366,0.0368],[5.392,-0.0538],[5.415,-0.1081],[5.447,-0.0689],[5.48,0.0066],[5.513,0.067],[5.539,0.1229],[5.562,0.0972],[5.588,0.0368],[5.611,-0.0236],[5.643,-0.0689],[5.666,-0.084],[5.699,-0.0538],[5.725,-0.0085],[5.764,0.0308],[5.797,0.0368],[5.839,0.0066],[5.872,-0.0024],[5.904,0.0308],[5.937,0.0429],[5.97,0.0308],[6.002,-0.0024],[6.035,-0.0175],[6.084,0.0066],[6.133,0.0338],[6.166,0.0066],[6.198,-0.0236],[6.231,-0.0387],[6.257,-0.0538],[6.286,-0.0236],[6.329,0.0066],[6.371,-0.0145],[6.404,-0.0356],[6.427,0.0127],[6.459,0.0368],[6.486,0.061],[6.518,0.0731],[6.551,0.0368],[6.574,-0.0085],[6.606,-0.0387],[6.639,-0.0538],[6.672,-0.0236],[6.704,0.0187],[6.737,0.0187],[6.786,0.0097],[6.835,0.0006],[6.867,0.0066],[6.916,0.0187],[6.959,0.0217],[6.998,0.0097],[7.047,-0.0024],[7.096,-0.0175],[7.145,0.0066],[7.178,0.0187],[7.22,0.0006],[7.253,-0.0296],[7.279,-0.0462],[7.318,-0.0085],[7.341,0.0368],[7.364,0.052],[7.39,0.0066],[7.422,-0.0236],[7.462,-0.0658],[7.488,-0.0236],[7.52,0.0368],[7.553,0.1244],[7.579,0.0972],[7.602,0.0368],[7.625,-0.0236],[7.651,-0.084],[7.677,-0.1368],[7.71,-0.084],[7.736,0.0066],[7.765,0.067],[7.788,0.1093],[7.814,0.067],[7.847,0.0217],[7.88,-0.0236],[7.906,-0.0538],[7.945,-0.0236],[7.987,0.0278],[8.036,0.0066],[8.075,-0.0356],[8.124,0.0066],[8.164,0.0248],[8.2,0.0006],[8.239,-0.0236],[8.271,-0.0417],[8.304,-0.0236],[8.33,0.0368],[8.353,0.1154],[8.376,0.052],[8.402,-0.0236],[8.428,-0.1142],[8.444,-0.1957],[8.467,-0.1142],[8.49,0.0066],[8.516,0.1274],[8.549,0.2029],[8.572,0.1576],[8.591,0.067],[8.614,-0.0236],[8.647,-0.099],[8.679,-0.1323],[8.712,-0.084],[8.735,-0.0236],[8.761,0.0368],[8.794,0.0701],[8.826,0.0368],[8.859,-0.0085],[8.892,-0.0462],[8.924,-0.0085],[8.957,0.0308],[9.006,-0.0024],[9.055,-0.0175],[9.104,0.0066],[9.137,0.0097],[9.169,-0.0115],[9.202,-0.0387],[9.225,-0.0689],[9.251,-0.0236],[9.277,0.0368],[9.3,0.0942],[9.323,0.0368],[9.349,-0.0538],[9.372,-0.1444],[9.389,-0.2017],[9.414,-0.1142],[9.43,0.067],[9.447,0.1878],[9.47,0.2356],[9.48,0.27],[9.49,0.2356],[9.512,0.1576],[9.538,0.0368],[9.561,-0.0387],[9.584,-0.084],[9.617,-0.1262],[9.649,-0.084],[9.675,0.0066],[9.708,0.061],[9.741,0.0217],[9.773,-0.0236],[9.806,-0.0689],[9.832,-0.09],[9.865,-0.0538],[9.897,0.0066],[9.93,0.0338],[9.962,0.0066],[10,-0.0085]];

// ECG REF
const ecgPred = [[0,-0.27],[0.065,-0.37],[0.123,-0.08],[0.167,0.47],[0.218,0.12],[0.269,0.05],[0.327,0.1],[0.392,-0.01],[0.436,0.08],[0.508,-0.05],[0.581,0.05],[0.632,-0.27],[0.668,-0.5],[0.712,0.57],[0.741,1.87],[0.77,0.57],[0.799,-0.66],[0.85,-0.27],[0.886,-0.21],[0.93,-0.34],[0.973,-0.08],[1.031,0.43],[1.089,-0.01],[1.14,0.05],[1.191,0.12],[1.249,-0.08],[1.293,-0.14],[1.351,0.02],[1.409,-0.14],[1.481,0.15],[1.525,-0.34],[1.554,-0.47],[1.598,0.25],[1.634,2.48],[1.67,0.89],[1.707,-0.66],[1.757,-0.4],[1.794,-0.34],[1.845,-0.56],[1.888,-0.08],[1.924,0.34],[1.99,-0.01],[2.048,0.05],[2.121,-0.01],[2.171,-0.08],[2.229,0.05],[2.28,-0.01],[2.338,-0.08],[2.411,0.05],[2.455,0.15],[2.498,-0.37],[2.542,0.25],[2.585,1.61],[2.622,0.25],[2.665,-0.47],[2.723,-0.3],[2.774,-0.6],[2.832,0.05],[2.89,0.38],[2.956,0.12],[3.065,0.05],[3.174,-0.05],[3.282,-0.08],[3.391,0.12],[3.442,-0.4],[3.479,-0.47],[3.515,0.57],[3.544,1.83],[3.573,0.57],[3.617,-0.92],[3.667,-0.6],[3.718,-0.34],[3.776,0.05],[3.827,0.38],[3.899,-0.01],[3.972,0.12],[4.067,-0.08],[4.154,-0.11],[4.212,-0.01],[4.263,-0.11],[4.314,0.12],[4.372,-0.27],[4.415,1.22],[4.444,2.81],[4.474,1.22],[4.51,-1.08],[4.553,-0.6],[4.604,-0.3],[4.662,-0.34],[4.72,0.28],[4.771,0.12],[4.822,0.12],[4.88,0.05],[4.938,0.02],[4.989,-0.05],[5.0,-0.01]];
const ecgRef = [[0,-0.34],[0.065,-0.5],[0.123,-0.21],[0.16,0.31],[0.196,0.21],[0.269,0.12],[0.378,0.05],[0.487,-0.05],[0.559,-0.11],[0.632,-0.34],[0.683,-0.47],[0.726,1.22],[0.755,2.22],[0.784,0.57],[0.813,-0.86],[0.85,-0.6],[0.9,-0.27],[0.959,-0.37],[1.002,-0.08],[1.046,0.12],[1.14,0.1],[1.213,0.02],[1.322,-0.05],[1.431,-0.11],[1.481,-0.21],[1.54,-0.47],[1.598,0.05],[1.634,2.06],[1.67,0.57],[1.707,-0.82],[1.757,-0.4],[1.816,-0.27],[1.888,0.12],[1.939,0.18],[2.048,0.05],[2.157,0.02],[2.302,-0.01],[2.375,-0.21],[2.484,-0.34],[2.542,0.38],[2.585,2.0],[2.629,-0.08],[2.68,-0.73],[2.738,-0.4],[2.81,-0.21],[2.883,0.18],[2.992,0.12],[3.137,0.02],[3.246,-0.05],[3.355,-0.08],[3.428,-0.21],[3.479,-0.4],[3.522,0.57],[3.551,2.07],[3.588,0.57],[3.624,-0.73],[3.682,-0.4],[3.733,-0.27],[3.791,0.12],[3.834,0.31],[3.936,0.12],[4.045,0.05],[4.154,0.02],[4.263,-0.05],[4.336,-0.11],[4.408,-0.21],[4.444,2.26],[4.481,-0.08],[4.517,-0.73],[4.59,-0.4],[4.662,-0.47],[4.72,0.31],[4.771,0.12],[4.88,-0.01],[4.989,-0.08],[5.025,-0.14],[5.098,-0.21],[5.171,-0.34],[5.207,1.22],[5.243,2.26],[5.28,0.25],[5.316,-0.92],[5.367,-0.53],[5.425,-0.34],[5.497,-0.08],[5.57,0.08],[5.679,0.08],[5.824,0.05],[5.933,0.02],[6.042,-0.08],[6.115,-0.4],[6.173,-0.27],[6.224,2.13],[6.26,-0.08],[6.296,-0.86],[6.369,-0.34],[6.442,-0.08],[6.514,0.18],[6.623,0.12],[6.768,0.02],[6.914,-0.05],[7.059,-0.21],[7.168,-0.4],[7.204,-0.08],[7.255,2.19],[7.291,0.57],[7.335,-0.86],[7.386,-0.47],[7.458,-0.4],[7.531,0.05],[7.603,0.18],[7.712,0.05],[7.858,0.02],[8.003,-0.01],[8.112,-0.14],[8.185,-0.4],[8.235,0.25],[8.272,2.22],[8.308,0.25],[8.344,-0.86],[8.402,-0.4],[8.475,-0.47],[8.548,0.18],[8.584,0.25],[8.729,0.05],[8.874,-0.01],[9.02,-0.05],[9.129,-0.4],[9.179,0.57],[9.216,2.22],[9.252,0.25],[9.288,-0.92],[9.346,-0.47],[9.419,-0.4],[9.513,0.21],[9.601,0.12],[9.71,-0.01],[9.819,-0.05],[9.927,-0.14],[10,-0.27]];
const ecgFore = [[5.0,0.05],[5.083,-0.08],[5.12,-0.47],[5.171,-0.27],[5.207,0.89],[5.236,2.35],[5.272,0.57],[5.309,-0.86],[5.352,-0.4],[5.389,-0.47],[5.447,0.05],[5.497,0.38],[5.57,0.25],[5.643,0.15],[5.715,0.25],[5.788,0.12],[5.897,0.05],[6.006,-0.05],[6.078,0.12],[6.129,-0.14],[6.173,-0.21],[6.202,1.22],[6.224,1.87],[6.26,0.12],[6.296,-0.63],[6.354,-0.47],[6.405,-0.5],[6.463,0.05],[6.514,0.31],[6.587,0.18],[6.659,0.21],[6.768,0.08],[6.877,-0.01],[6.986,-0.08],[7.059,-0.05],[7.131,-0.3],[7.19,-0.27],[7.219,1.22],[7.248,2.35],[7.277,0.57],[7.32,-0.6],[7.364,-0.47],[7.422,-0.21],[7.495,0.31],[7.553,0.12],[7.64,0.08],[7.749,0.02],[7.858,-0.01],[8.003,-0.11],[8.112,0.12],[8.17,-0.34],[8.221,-0.27],[8.257,1.87],[8.294,0.25],[8.33,-0.66],[8.381,-0.47],[8.439,-0.21],[8.497,-0.27],[8.548,0.28],[8.62,0.12],[8.729,0.05],[8.838,-0.01],[8.947,-0.08],[9.056,0.02],[9.129,-0.27],[9.165,-0.01],[9.194,1.87],[9.216,2.35],[9.252,0.57],[9.281,-0.99],[9.325,-0.47],[9.383,-0.21],[9.455,-0.08],[9.492,0.21],[9.528,0.25],[9.601,0.12],[9.71,0.05],[9.819,0.02],[9.927,0.08],[9.978,-0.08],[10,-0.4]];

// ---------------- LAYOUT / STYLE ----------------
const W = 2981;
const H = 3839;
const GRID_LEFT = 303;
const GRID_W = 2614;
const GRID_H = 509;
const gridTops = [117, 866, 1615, 2363, 3110];
const yLabelXs = [57, 55, 57, 92, 166];

const AX = "#262626";
const SANS = "'Liberation Sans', Arial, Helvetica, sans-serif";
const SERIF = "'Liberation Serif', 'Times New Roman', serif";

const panels = [
  { pred: cecgPred, ref: cecgRef, fore: cecgFore, ticks: cecgTicks },
  { pred: ppgPred, ref: ppgRef, fore: ppgFore, ticks: ppgTicks },
  { pred: bcgOptPred, ref: bcgOptRef, fore: bcgOptFore, ticks: bcgOptTicks },
  { pred: emfiPred, ref: emfiRef, fore: emfiFore, ticks: emfiTicks },
  { pred: ecgPred, ref: ecgRef, fore: ecgFore, ticks: ecgTicks },
];

const fmt = (v: number) => String(Number(v.toPrecision(6)));

function buildOption() {
  const grid: any[] = [];
  const xAxis: any[] = [];
  const yAxis: any[] = [];
  const series: any[] = [];
  const graphics: any[] = [];
  const axisLine = { show: true, onZero: false, lineStyle: { color: AX, width: 4 } };
  const tick = (custom?: number[]) => ({
    show: true,
    inside: true,
    length: 28,
    lineStyle: { color: AX, width: 3.5 },
    ...(custom ? { customValues: custom } : {}),
  });

  panels.forEach((p, i) => {
    const last = i === panels.length - 1;
    grid.push({ left: GRID_LEFT, top: gridTops[i], width: GRID_W, height: GRID_H, outerBoundsMode: "none", containLabel: false });
    xAxis.push({
      gridIndex: i, type: "value", position: "bottom", min: timeMin, max: timeMax, interval: 1,
      axisLine, axisTick: tick(), splitLine: { show: false },
      axisLabel: { show: last, margin: 36, fontSize: 66, fontFamily: SANS, color: AX, formatter: (v: number) => fmt(v) },
    });
    xAxis.push({
      gridIndex: i, type: "value", position: "top", min: timeMin, max: timeMax, interval: 1,
      axisLine, axisTick: tick(), splitLine: { show: false }, axisLabel: { show: false },
    });
    yAxis.push({
      gridIndex: i, type: "value", position: "left", min: yMins[i], max: yMaxs[i],
      axisLine, axisTick: tick(p.ticks), splitLine: { show: false },
      axisLabel: { customValues: p.ticks, margin: 19, fontSize: 66, fontFamily: SANS, color: AX, formatter: (v: number) => fmt(v) },
    });
    yAxis.push({
      gridIndex: i, type: "value", position: "right", min: yMins[i], max: yMaxs[i],
      axisLine, axisTick: tick(p.ticks), splitLine: { show: false }, axisLabel: { show: false },
    });

    const base = { type: "line", xAxisIndex: 2 * i, yAxisIndex: 2 * i, symbol: "none", showSymbol: false, smooth: 0.25, silent: true, clip: true, animation: false };
    series.push({ ...base, name: "pred" + i, data: p.pred, z: 2, lineStyle: { color: "#0000FF", width: 10, cap: "butt" } });
    series.push({ ...base, name: "ref" + i, data: p.ref, z: 3, lineStyle: { color: "#000000", width: 10, type: [36, 17], cap: "butt" } });
    series.push({ ...base, name: "fore" + i, data: p.fore, z: 4, lineStyle: { color: "#FF0000", width: 10, type: [12, 8], cap: "butt" } });
    series.push({
      ...base, name: "split" + i, smooth: false, z: 5,
      data: [[splitTime, yMins[i]], [splitTime, yMaxs[i]]],
      lineStyle: { color: "#0072BD", width: 20, type: [22, 21], cap: "butt" },
    });

    // title
    graphics.push({
      type: "text", x: GRID_LEFT + GRID_W / 2, y: gridTops[i] - 71, silent: true,
      style: { text: titles[i], fontSize: 80, fontFamily: SERIF, fill: "#000000", align: "center", verticalAlign: "middle", textAlign: "center", textVerticalAlign: "middle" },
    });
    // y label
    graphics.push({
      type: "text", x: yLabelXs[i], y: gridTops[i] + GRID_H / 2, rotation: Math.PI / 2, silent: true,
      style: { text: "[a.u.]", fontSize: 73, fontFamily: SERIF, fill: AX, align: "center", verticalAlign: "middle", textAlign: "center", textVerticalAlign: "middle" },
    });
  });

  graphics.push({
    type: "text", x: GRID_LEFT + GRID_W / 2, y: 3771, silent: true,
    style: { text: "Time [s]", fontSize: 72, fontFamily: SERIF, fill: AX, align: "center", verticalAlign: "middle", textAlign: "center", textVerticalAlign: "middle" },
  });

  return {
    animation: false,
    backgroundColor: "#ffffff",
    grid, xAxis, yAxis, series,
    graphic: { elements: graphics },
  };
}

export default function App() {
  const ref = useRef<HTMLDivElement>(null);
  useEffect(() => {
    document.body.style.margin = "0";
    document.body.style.overflow = "hidden";
    if (!ref.current) return;
    const chart = echarts.init(ref.current, null, { renderer: "svg", width: W, height: H });
    chart.setOption(buildOption() as any);
    return () => chart.dispose();
  }, []);
  return <div ref={ref} style={{ width: W, height: H, background: "#fff" }} />;
}
